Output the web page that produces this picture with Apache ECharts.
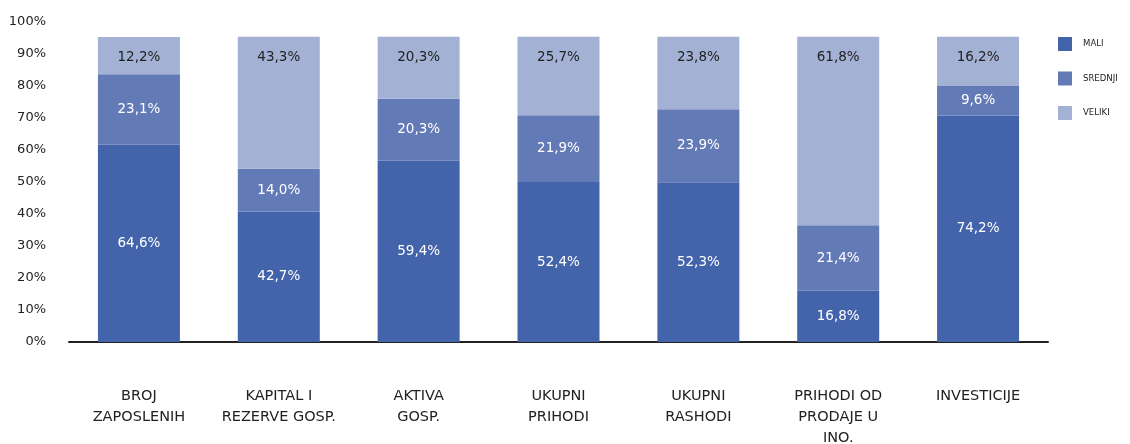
<!DOCTYPE html>
<html>
<head>
<meta charset="utf-8">
<script src="https://cdn.jsdelivr.net/npm/echarts@6/dist/echarts.min.js"></script>
<style>
html,body{margin:0;padding:0;background:#fff;}
#chart{width:1130px;height:444px;}
</style>
</head>
<body>
<div id="chart"></div>
<script>
const categories = ['BROJ\nZAPOSLENIH', 'KAPITAL I\nREZERVE GOSP.', 'AKTIVA\nGOSP.', 'UKUPNI\nPRIHODI', 'UKUPNI\nRASHODI', 'PRIHODI OD\nPRODAJE U\nINO.', 'INVESTICIJE'];
const seriesNames = ['MALI', 'SREDNJI', 'VELIKI'];
const mali    = [64.6, 42.7, 59.4, 52.4, 52.3, 16.8, 74.2];
const srednji = [23.1, 14.0, 20.3, 21.9, 23.9, 21.4, 9.6];
const veliki  = [12.2, 43.3, 20.3, 25.7, 23.8, 61.8, 16.2];
const yTicks = [0, 10, 20, 30, 40, 50, 60, 70, 80, 90, 100];

const FONT = 'DejaVu Sans';
const colors = ['#4364aa', '#627ab6', '#a2b1d4'];
const fmt = p => p.value.toFixed(1).replace('.', ',') + '%';

const chart = echarts.init(document.getElementById('chart'), null, {renderer: 'canvas'});
const barStyle = {borderWidth: 0};
chart.setOption({
  animation: false,
  color: colors,
  textStyle: {fontFamily: FONT},
  grid: {left: 69, right: 82, top: 22, bottom: 102, containLabel: false, outerBoundsMode: 'none'},
  legend: {
    orient: 'vertical',
    left: 1058,
    top: 37,
    padding: 0,
    itemWidth: 14,
    itemHeight: 14,
    itemGap: 20.5,
    icon: 'rect',
    data: seriesNames,
    textStyle: {fontFamily: 'DejaVu Sans Condensed', fontSize: 9.5, color: '#222', padding: [0, 0, 0, 6]}
  },
  xAxis: {
    type: 'category',
    data: categories,
    axisLine: {show: true, lineStyle: {color: '#222', width: 2}},
    axisTick: {show: false},
    axisLabel: {fontFamily: FONT, fontSize: 14.5, color: '#222', lineHeight: 21, margin: 44, interval: 0}
  },
  yAxis: [{
    type: 'value',
    min: yTicks[0],
    max: yTicks[yTicks.length - 1],
    interval: yTicks[1] - yTicks[0],
    axisLine: {show: false},
    axisTick: {show: false},
    splitLine: {show: false},
    axisLabel: {formatter: '{value}%', fontFamily: FONT, fontSize: 13, color: '#222', margin: 23}
  }, {
    type: 'value',
    min: 0,
    max: 104.8,
    show: false,
    splitLine: {show: false}
  }],
  series: [
    {name: seriesNames[0], type: 'bar', stack: 'a', yAxisIndex: 1, barWidth: 82, data: mali, itemStyle: barStyle,
     label: {show: true, position: 'inside', formatter: fmt, color: '#fff', fontFamily: FONT, fontSize: 13.5}},
    {name: seriesNames[1], type: 'bar', stack: 'a', yAxisIndex: 1, barWidth: 82, data: srednji, itemStyle: barStyle,
     label: {show: true, position: 'inside', formatter: fmt, color: '#fff', fontFamily: FONT, fontSize: 13.5}},
    {name: seriesNames[2], type: 'bar', stack: 'a', yAxisIndex: 1, barWidth: 82, data: veliki, itemStyle: barStyle,
     label: {show: true, position: 'insideTop', distance: 14, formatter: fmt, color: '#222', fontFamily: FONT, fontSize: 13.5}}
  ]
});
</script>
</body>
</html>
